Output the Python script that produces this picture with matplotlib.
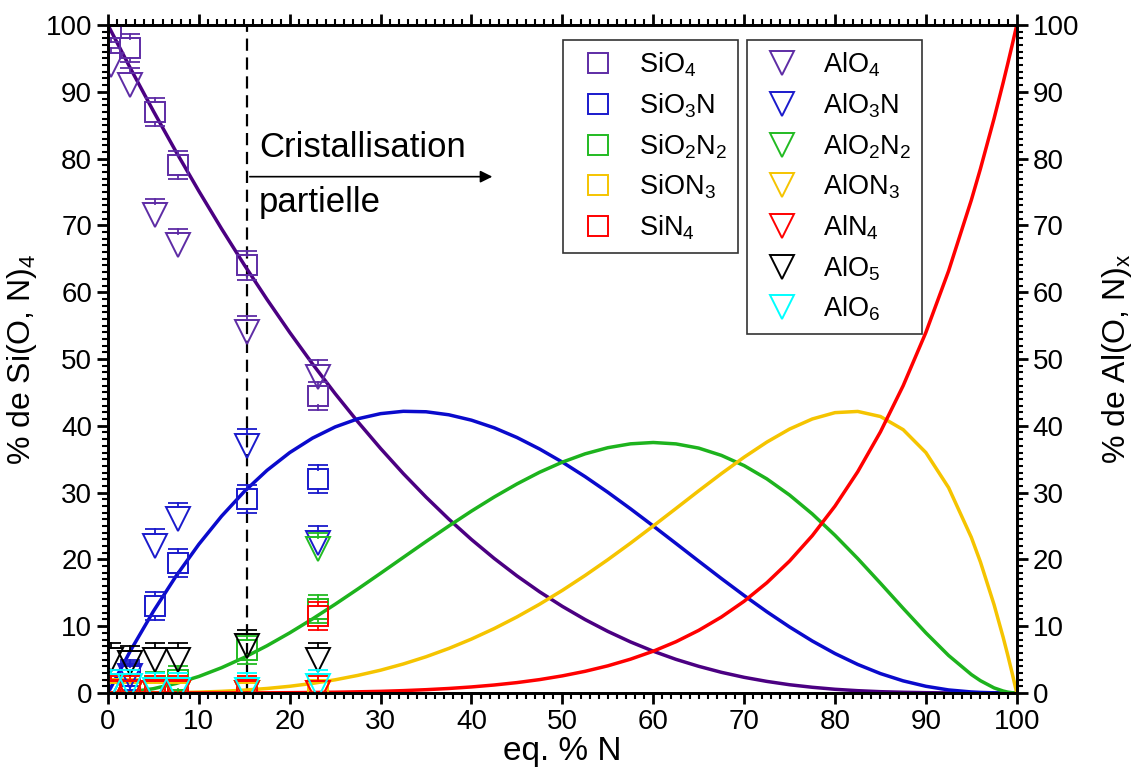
import matplotlib
matplotlib.use("Agg")
import matplotlib.pyplot as plt
from matplotlib.lines import Line2D
from matplotlib.ticker import MultipleLocator

plt.rcParams["font.family"] = ["Liberation Sans", "DejaVu Sans"]
plt.rcParams["mathtext.default"] = "regular"

# model curves (eq. % N)
x_model = [0, 2.5, 5, 7.5, 10, 12.5, 15, 17.5, 20, 22.5, 25, 27.5, 30, 32.5, 35, 37.5, 40, 42.5,
           45, 47.5, 50, 52.5, 55, 57.5, 60, 62.5, 65, 67.5, 70, 72.5, 75, 77.5, 80, 82.5, 85,
           87.5, 90, 92.5, 95, 96, 97.5, 98.5, 99, 99.5, 100]
sio4_c = [100, 93.44, 87.11, 81.01, 75.14, 69.50, 64.09, 58.92, 53.98, 49.28, 44.81, 40.59,
          36.60, 32.84, 29.32, 26.03, 22.97, 20.14, 17.53, 15.14, 12.96, 10.99, 9.22, 7.64, 6.25,
          5.03, 3.99, 3.09, 2.34, 1.73, 1.23, 0.85, 0.55, 0.34, 0.19, 0.10, 0.04, 0.01, 0, 0,
          0, 0, 0, 0, 0]
sio3n_c = [0, 6.39, 12.23, 17.52, 22.26, 26.47, 30.16, 33.33, 35.99, 38.15, 39.83, 41.05, 41.82,
           42.17, 42.10, 41.65, 40.84, 39.70, 38.25, 36.52, 34.56, 32.39, 30.05, 27.57, 25.00,
           22.38, 19.74, 17.13, 14.59, 12.16, 9.88, 7.78, 5.90, 4.27, 2.90, 1.81, 1.00, 0.45,
           0.15, 0.08, 0.02, 0, 0, 0, 0]
sio2n2_c = [0, 0.16, 0.64, 1.42, 2.47, 3.78, 5.32, 7.07, 9.00, 11.08, 13.28, 15.57, 17.92, 20.30,
            22.67, 24.99, 27.23, 29.34, 31.29, 33.05, 34.56, 35.80, 36.72, 37.30, 37.50, 37.29,
            36.66, 35.57, 34.04, 32.05, 29.63, 26.80, 23.60, 20.12, 16.43, 12.67, 9.00, 5.61,
            2.76, 1.84, 0.76, 0.29, 0.13, 0.03, 0]
sion3_c = [0, 0, 0.02, 0.05, 0.12, 0.24, 0.42, 0.67, 1.00, 1.43, 1.97, 2.63, 3.41, 4.34, 5.42,
           6.66, 8.07, 9.64, 11.38, 13.29, 15.36, 17.59, 19.95, 22.43, 25.00, 27.62, 30.26,
           32.84, 35.30, 37.56, 39.51, 41.02, 41.97, 42.15, 41.39, 39.42, 35.99, 30.74, 23.30,
           19.62, 13.23, 8.35, 5.71, 2.93, 0]
sin4_c = [0, 0, 0, 0, 0, 0.01, 0.01, 0.02, 0.04, 0.07, 0.11, 0.17, 0.24, 0.35, 0.49, 0.67, 0.90,
          1.19, 1.55, 2.00, 2.56, 3.24, 4.06, 5.06, 6.25, 7.67, 9.37, 11.37, 13.73, 16.50, 19.75,
          23.55, 27.98, 33.12, 39.09, 46.00, 53.98, 63.19, 73.79, 78.47, 85.99, 91.36, 94.16,
          97.04, 100]

# measured points
x_pts = [0.3, 2.4, 5.2, 7.7, 15.3, 23.1]
sio4 = [99.5, 96.5, 87.0, 79.0, 64.0, 44.5]
sio3n = [0.5, 2.5, 13.0, 19.5, 29.0, 32.0]
sio2n2 = [0.0, 0.5, 1.0, 2.0, 6.5, 12.5]
sion3 = [0.0, 0.0, 0.0, 0.0, 0.0, 0.5]
sin4 = [0.5, 0.5, 0.5, 0.5, 0.5, 11.5]
alo4 = [94.0, 91.0, 71.5, 67.0, 54.0, 47.3]
alo3n = [1.0, 2.5, 22.0, 26.0, 37.0, 22.5]
alo2n2 = [0.0, 0.0, 0.0, 0.0, 0.0, 21.5]
alon3 = [0.0, 0.0, 0.0, 0.0, 0.0, 0.0]
aln4 = [0.0, 0.0, 0.0, 0.0, 0.0, 0.0]
alo5 = [5.0, 4.5, 5.0, 5.0, 7.0, 5.0]
alo6 = [1.0, 1.0, 0.5, 0.5, 0.5, 1.0]
err_si = 2.1
err_al = 2.5

si_labels = ["SiO$_4$", "SiO$_3$N", "SiO$_2$N$_2$", "SiON$_3$", "SiN$_4$"]
al_labels = ["AlO$_4$", "AlO$_3$N", "AlO$_2$N$_2$", "AlON$_3$", "AlN$_4$", "AlO$_5$", "AlO$_6$"]

line_cols = ["#4B0082", "#0A0ACC", "#1DB31D", "#F5C400", "#FF0000"]
mark_cols = ["#5E2CA5", "#1A1ACC", "#22BB22", "#F5C400", "#FF0000", "#000000", "#00FFFF"]

SQ_MS = 14
TRI_MS = 17
CAP_MS = 14

fig = plt.figure(figsize=(11.45, 7.83), dpi=100)
ax = fig.add_axes([0.0943, 0.115, 0.7937, 0.853])
ax.set_xlim(0, 100)
ax.set_ylim(0, 100)

for yc, c in zip([sio4_c, sio3n_c, sio2n2_c, sion3_c, sin4_c], line_cols):
    ax.plot(x_model, yc, color=c, lw=2.5, zorder=2, solid_joinstyle="round")

ax.plot([15.3, 15.3], [0, 100], color="black", lw=1.6, ls=(0, (5.5, 3)), zorder=1)

# error bars drawn outside the hollow markers only
px_per_unit = ax.get_window_extent().height / 100.0


def points(ys, marker, ms, color, err, down=True):
    half = ms * fig.dpi / 72 / 2 / px_per_unit
    ax.plot(x_pts, ys, ls="none", marker=marker, ms=ms, mfc="none", mec=color, mew=1.4, zorder=3)
    for xi, yi in zip(x_pts, ys):
        ax.plot([xi, xi], [yi + half, yi + err], color=color, lw=1.3, zorder=3)
        if down:
            ax.plot([xi, xi], [yi - half, yi - err], color=color, lw=1.3, zorder=3)
    ax.plot(x_pts, [y + err for y in ys], ls="none", marker="_", ms=CAP_MS, mec=color,
            mew=1.3, zorder=3)
    if down:
        ax.plot(x_pts, [y - err for y in ys], ls="none", marker="_", ms=CAP_MS, mec=color,
                mew=1.3, zorder=3)


for ys, c in zip([sio4, sio3n, sio2n2, sion3, sin4], mark_cols):
    points(ys, "s", SQ_MS, c, err_si)
for ys, c in zip([alo4, alo3n, alo2n2, alon3, aln4, alo5, alo6], mark_cols):
    points(ys, "v", TRI_MS, c, err_al, down=False)

ax.annotate("", xy=(42.6, 77.3), xytext=(15.3, 77.3),
            arrowprops=dict(arrowstyle="-|>", color="black", lw=1.2, mutation_scale=18))
ax.text(16.6, 81.6, "Cristallisation", fontsize=25, va="center")
ax.text(16.6, 73.4, "partielle", fontsize=25, va="center")

ax.set_xlabel("eq. % N", fontsize=24, labelpad=1)
ax.set_ylabel("% de Si(O, N)$_4$", fontsize=23, labelpad=5)

ax2 = ax.twinx()
ax2.set_ylim(0, 100)
ax2.set_ylabel("% de Al(O, N)$_x$", fontsize=23, labelpad=15)

for a in (ax, ax2):
    a.xaxis.set_major_locator(MultipleLocator(10))
    a.xaxis.set_minor_locator(MultipleLocator(1))
    a.yaxis.set_major_locator(MultipleLocator(10))
    a.yaxis.set_minor_locator(MultipleLocator(1))
    a.tick_params(which="major", direction="out", length=8, width=2, labelsize=20)
    a.tick_params(which="minor", direction="out", length=4.5, width=1.5)
    for s in a.spines.values():
        s.set_linewidth(2)
ax.tick_params(which="both", top=True, right=False)
ax2.tick_params(which="both", top=False)

sq_handles = [Line2D([], [], ls="none", marker="s", ms=SQ_MS, mfc="none", mec=c, mew=1.4)
              for c in mark_cols[:5]]
tri_handles = [Line2D([], [], ls="none", marker="v", ms=TRI_MS, mfc="none", mec=c, mew=1.4)
               for c in mark_cols]

leg_kw = dict(loc="upper left", fontsize=19.5, frameon=True, fancybox=False, edgecolor="black",
              labelspacing=0.45, handletextpad=0.65, borderpad=0.4, handlelength=1.75,
              borderaxespad=0)
leg1 = fig.legend(sq_handles, si_labels, bbox_to_anchor=(0.4917, 0.9489), **leg_kw)
leg1.get_frame().set_linewidth(1.2)
leg2 = fig.legend(tri_handles, al_labels, bbox_to_anchor=(0.6524, 0.9489), **leg_kw)
leg2.get_frame().set_linewidth(1.2)

fig.savefig("out.png", dpi=100)
